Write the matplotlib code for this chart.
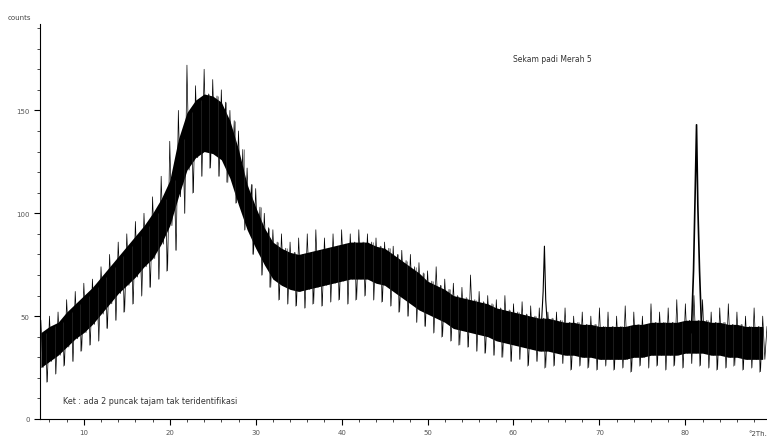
import numpy as np
import matplotlib.pyplot as plt

#------------------------------------------------------------------------
# Data (counts vs degrees 2Theta)

theta = list(range(5, 90))

band_lo = [25, 28, 31, 35, 39, 42, 46, 51, 56, 61, 65, 69, 74, 78, 85, 94, 108, 121, 127, 130,
           129, 126, 117, 104, 92, 83, 75, 68, 65, 63, 62, 63, 64, 65, 66, 67, 68, 68, 68, 66,
           65, 62, 59, 56, 53, 51, 49, 47, 44, 43, 42, 41, 40, 38, 37, 36, 35, 34, 33, 33,
           32, 31, 31, 30, 30, 29, 29, 29, 29, 30, 30, 31, 31, 31, 31, 32, 32, 32, 31, 31,
           30, 30, 29, 29, 29]

band_hi = [42, 45, 47, 52, 56, 60, 64, 69, 74, 79, 84, 89, 94, 100, 107, 116, 136, 149, 155, 158,
           157, 154, 145, 131, 114, 103, 93, 86, 83, 81, 80, 81, 82, 83, 84, 85, 86, 86, 86, 84,
           83, 80, 77, 74, 71, 67, 65, 63, 60, 59, 58, 57, 56, 54, 53, 52, 51, 50, 49, 49,
           48, 47, 47, 46, 46, 45, 45, 45, 45, 46, 46, 47, 47, 47, 47, 48, 48, 48, 47, 47,
           46, 46, 45, 45, 45]

spike_hi = [48, 50, 52, 58, 62, 66, 68, 74, 80, 86, 90, 96, 100, 108, 118, 135, 150, 172, 162, 170,
            165, 160, 150, 140, 122, 112, 100, 92, 90, 86, 88, 90, 92, 88, 90, 92, 90, 92, 90, 88,
            86, 84, 82, 80, 76, 72, 74, 68, 66, 64, 70, 62, 60, 58, 60, 56, 57, 55, 54, 52,
            52, 54, 50, 52, 50, 54, 52, 50, 55, 52, 50, 56, 52, 54, 58, 56, 60, 58, 52, 54,
            56, 52, 50, 54, 50]

spike_lo = [18, 22, 26, 28, 33, 36, 38, 44, 48, 52, 56, 60, 64, 68, 72, 82, 100, 110, 118, 122,
            118, 115, 105, 92, 80, 70, 64, 58, 56, 55, 54, 56, 55, 57, 58, 56, 58, 60, 58, 57,
            55, 52, 50, 47, 45, 42, 40, 38, 36, 35, 33, 32, 31, 30, 28, 29, 26, 28, 25, 26,
            27, 24, 26, 25, 24, 26, 24, 25, 23, 26, 25, 26, 24, 26, 25, 27, 26, 25, 24, 25,
            26, 24, 25, 23, 25]

# two sharp unidentified peaks
peak1_theta = [63.2, 63.45, 63.6, 63.75, 64.0]
peak1_counts = [42, 62, 84, 58, 41]
peak2_theta = [80.7, 80.95, 81.15, 81.3, 81.45, 81.65, 81.9]
peak2_counts = [42, 72, 112, 143, 104, 72, 42]

y_ticks = [0, 50, 100, 150]
x_ticks = [10, 20, 30, 40, 50, 60, 70, 80]

#------------------------------------------------------------------------
# Figure

fig = plt.figure(figsize=(7.67, 4.39), dpi=100)
ax = fig.add_axes([40/767, 19/439, 727/767, 395/439])

t = np.array(theta, dtype=float)
ax.fill_between(t, band_lo, band_hi, color='black', lw=0)

# noisy trace: hop between the read extremes four times per degree
zig_x = np.empty(4 * len(t))
zig_y = np.empty(4 * len(t))
zig_x[0::4] = t
zig_x[1::4] = t + 0.25
zig_x[2::4] = t + 0.5
zig_x[3::4] = t + 0.75
zig_y[0::4] = spike_hi
zig_y[1::4] = band_lo
zig_y[2::4] = band_hi
zig_y[3::4] = spike_lo
ax.plot(zig_x, zig_y, color='black', lw=0.5)
ax.vlines(t + 0.6, spike_lo, band_hi, color='#333333', lw=0.4)

ax.plot(peak1_theta, peak1_counts, color='black', lw=0.8)
ax.plot(peak2_theta, peak2_counts, color='black', lw=1.2)

ax.set_xlim(4.9, 89.5)
ax.set_ylim(0, 192)
ax.spines['top'].set_visible(False)
ax.spines['right'].set_visible(False)
ax.set_yticks(y_ticks)
ax.set_xticks(x_ticks)
ax.set_yticks(np.arange(0, 192, 10), minor=True)
ax.set_xticks(np.arange(6, 90, 2), minor=True)
ax.tick_params(labelsize=5, labelcolor='#555555', length=4, width=0.8)
ax.tick_params(which='minor', length=2, width=0.5)

fig.text(8/767, 1 - 18/439, "counts", fontsize=5, color='#444444', va='center')
fig.text(748/767, 1 - 434/439, "°2Th.", fontsize=5, color='#444444', va='center')
fig.text(552/767, 1 - 60/439, "Sekam padi Merah 5", fontsize=5.5, color='#333333',
         ha='center', va='center')
fig.text(63/767, 1 - 402/439, "Ket : ada 2 puncak tajam tak teridentifikasi", fontsize=5.8,
         color='#333333', va='center')

fig.savefig("out.png", dpi=100)
